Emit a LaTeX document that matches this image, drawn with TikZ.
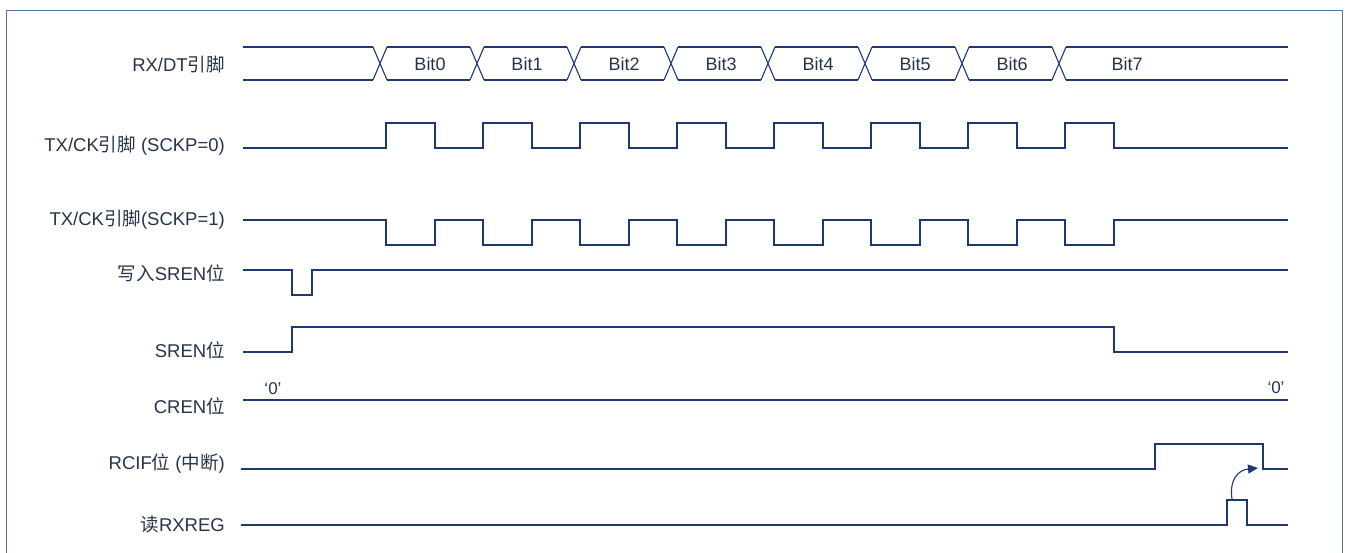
\documentclass[tikz,border=0pt]{standalone}
\usepackage{fontspec}
\setmainfont{Liberation Sans}
\newfontfamily\cjk{Noto Sans CJK SC}
\usetikzlibrary{arrows.meta}
\definecolor{sigc}{RGB}{31,56,110}
\definecolor{txtc}{RGB}{40,52,72}
\definecolor{framec}{RGB}{90,115,160}
\begin{document}
\begin{tikzpicture}[x=1pt,y=-1pt,
  sig/.style={draw=sigc, line width=1.1pt, line join=miter},
  lbl/.style={anchor=east, text=txtc, font=\fontsize{18.5}{21}\selectfont, inner sep=0pt},
  bitlbl/.style={text=txtc, font=\fontsize{18}{21}\selectfont, inner sep=0pt},
  zlbl/.style={text=txtc, font=\fontsize{17}{20}\selectfont, inner sep=0pt}]
\useasboundingbox (0,0) rectangle (1348,553);
\fill[white] (0,0) rectangle (1348,553);
\draw[draw=framec, line width=1pt] (6.5,11) rectangle (1342,600);

% labels
\node[lbl] (l1) at (225,65) {RX/DT{\cjk 引脚}};
\node[lbl] (l2) at (225,146) {TX/CK{\cjk 引脚} (SCKP=0)};
\node[lbl] (l3) at (225,220) {TX/CK{\cjk 引脚}(SCKP=1)};
\node[lbl] (l4) at (225,273) {{\cjk 写入}SREN{\cjk 位}};
\node[lbl] (l5) at (225,350) {SREN{\cjk 位}};
\node[lbl] (l6) at (225,406) {CREN{\cjk 位}};
\node[lbl] (l7) at (225,464) {RCIF{\cjk 位} ({\cjk 中断})};
\node[lbl] (l8) at (225,525) {{\cjk 读}RXREG};

% RX/DT data bus
\foreach \k in {0,...,7} {
  \pgfmathsetmacro\c{380+97*\k}
  \draw[sig] (\c-7,47) -- (\c+7,80) (\c-7,80) -- (\c+7,47);
}
\foreach \k in {0,...,6} {
  \pgfmathsetmacro\a{387+97*\k}
  \pgfmathsetmacro\b{470+97*\k}
  \draw[sig] (\a,47) -- (\b,47) (\a,80) -- (\b,80);
  \node[bitlbl] (bit\k) at ({430+97*\k},64) {Bit\k};
}
\draw[sig] (243,47) -- (373,47) (243,80) -- (373,80);
\draw[sig] (1066,47) -- (1288,47) (1066,80) -- (1288,80);
\node[bitlbl] (bit7) at (1127,64) {Bit7};

% TX/CK SCKP=0
\draw[sig] (243,148) \foreach \k in {0,...,7} {
  -- ({386+97*\k},148) -- ({386+97*\k},123) -- ({435+97*\k},123) -- ({435+97*\k},148)
} -- (1288,148);

% TX/CK SCKP=1
\draw[sig] (243,220) \foreach \k in {0,...,7} {
  -- ({386+97*\k},220) -- ({386+97*\k},245) -- ({435+97*\k},245) -- ({435+97*\k},220)
} -- (1288,220);

% write SREN
\draw[sig] (243,270) -- (292,270) -- (292,295) -- (312,295) -- (312,270) -- (1288,270);

% SREN
\draw[sig] (243,352) -- (292,352) -- (292,327) -- (1114,327) -- (1114,352) -- (1288,352);

% CREN
\draw[sig] (243,400) -- (1288,400);
\node[zlbl] (z1) at (273,389) {‘0’};
\node[zlbl] (z2) at (1276,388) {‘0’};

% RCIF
\draw[sig] (241,469) -- (1155,469) -- (1155,444) -- (1263,444) -- (1263,469) -- (1288,469);

% read RXREG
\draw[sig] (241,525) -- (1227,525) -- (1227,500) -- (1247,500) -- (1247,525) -- (1288,525);

% arrow
\coordinate (rxp) at (1232,499);
\coordinate (rcf) at (1258,468);
\draw[sigc, line width=1.1pt, -{Triangle[length=10pt,width=9pt]}] (rxp) .. controls (1229,480) and (1238,470) .. (rcf);
\end{tikzpicture}
\end{document}
